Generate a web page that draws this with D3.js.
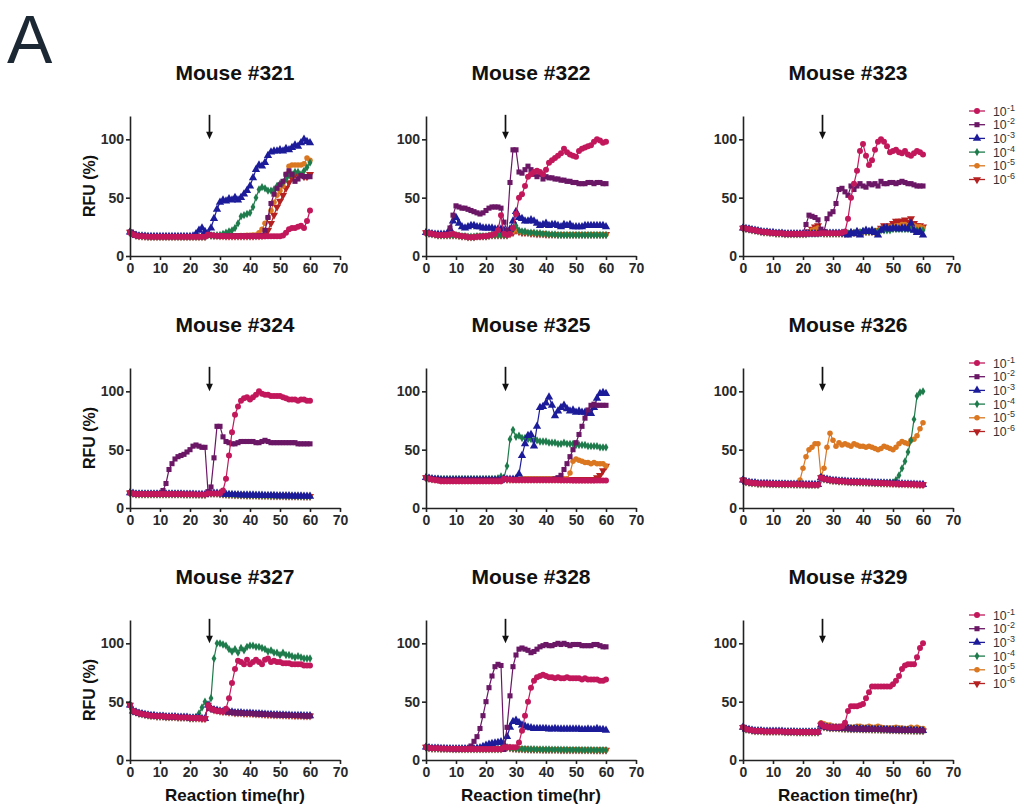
<!DOCTYPE html>
<html><head><meta charset="utf-8">
<script src="https://cdn.jsdelivr.net/npm/d3@7"></script>
<style>body{margin:0;background:#fff} svg{display:block}</style>
</head><body><svg id="chart" width="1020" height="807"></svg>
<script>
// ---------- DATA (RFU %, one value per hour, 0..60 h) ----------
const hours = d3.range(0, 61);
const xTicks = [0,10,20,30,40,50,60,70];
const yTicks = [0,50,100];
const dilutionExps = ["-1","-2","-3","-4","-5","-6"];
const titles = ["Mouse #321","Mouse #322","Mouse #323","Mouse #324","Mouse #325","Mouse #326","Mouse #327","Mouse #328","Mouse #329"];
const arrowTime = 26.5;

const m321_1 = [20,18.5,17.5,17,17,16.8,16.6,16.5,16.5,16.5, 16.5,16.5,16.5,16.5,16.5,16.5,16.5,16.5,16.5,16.5, 16.5,16.5,16.5,16.5,16.5,16.6,18.5,17.8,17.5,17.3, 17.2,17.1,17,17,17,17,17,17,17,17, 17,17,17,17,17,17,17,17,17,17, 17,17.5,20,23,24,24,25,26,24,30, 39];
const m321_2 = [20.5,19,17.8,17.2,17,16.9,16.7,16.6,16.6,16.6, 16.6,16.6,16.6,16.6,16.6,16.6,16.6,16.6,16.6,16.6, 16.6,16.6,16.6,16.6,16.6,16.7,18.3,17.8,17.5,17.4, 17.3,17.2,17.1,17.1,17.1,17.1,17.1,17.1,17.1,17.1, 17.1,17.1,17.1,17.2,17.5,22,33,45,53,58, 61,64,70,73,70,64,66,69,68,68, 68];
const m321_3 = [20.5,19,17.8,17.2,17,16.9,16.7,16.6,16.6,16.6, 16.6,16.6,16.6,16.6,16.6,16.6,16.6,16.6,16.6,16.6, 16.7,17,19,22,24,21,19,24,32,40, 46,48,47,49,48,50,48,50,53,56, 60,67,74,78,77,80,86,89,90,90, 91,90,92,91,93,95,94,97,100,98, 97];
const m321_4 = [20.5,19,17.8,17.2,17,16.9,16.7,16.6,16.6,16.6, 16.6,16.6,16.6,16.6,16.6,16.6,16.6,16.6,16.6,16.6, 16.6,16.6,16.6,16.6,16.6,16.7,18.3,17.8,17.6,17.8, 18,19,20,21,22,24,28,34,35,36, 37,42,50,57,59,58,56,56,57,60, 62,63,66,69,70,72,72,70,73,76, 80];
const m321_5 = [20.5,19,17.8,17.2,17,16.9,16.7,16.6,16.6,16.6, 16.6,16.6,16.6,16.6,16.6,16.6,16.6,16.6,16.6,16.6, 16.6,16.6,16.6,16.6,16.6,16.7,18.3,17.8,17.5,17.4, 17.3,17.2,17.2,17.2,17.2,17.3,17.4,17.5,17.6,17.7, 17.8,18,18,20,23,28,33,39,46,52, 56,60,70,77,78,78,78,78,79,84, 82];
const m321_6 = [20.5,19,17.8,17.2,17,16.9,16.7,16.6,16.6,16.6, 16.6,16.6,16.6,16.6,16.6,16.6,16.6,16.6,16.6,16.6, 16.6,16.6,16.6,16.6,16.6,16.7,18.3,17.8,17.5,17.4, 17.3,17.2,17.1,17.1,17.1,17.1,17.1,17.1,17.1,17.1, 17.1,17.1,17.2,17.3,17.5,18,22,28,35,42, 47,52,58,63,67,70,70,70,68,68, 70];

const m322_1 = [20,19.5,19,18.5,18,18,18,18,18.5,19, 18,17.5,17,17,16,16,16,16.5,16.5,17, 17,17.5,18,19,22,35,19,18,19,24, 36,50,53,60,68,70,72,73,72,70, 74,80,82,84,86,88,92,89,87,86, 85,90,92,93,94,95,98,100,99,97, 98];
const m322_2 = [20,19.5,19,18.5,18,18,18,19,24,35, 43,42,41,41,40,39,38,37,36,37, 39,41,42,42,42,41,29,22,63,91, 91,72,71,74,77,74,70,68,70,66, 68,67,67,66,66,65,65,64,64,63, 63,62,62,62,63,63,62,63,63,62, 62];
const m322_3 = [20,19.5,19,18.5,18.5,18.5,18.5,19,23,30, 33,28,25,24,25,26,26,25,25,24, 24,24,24,23,23,23,22,20,23,30, 38,33,32,30,30,31,30,28,26,27, 28,26,27,27,26,25,27,26,27,25, 25,25,25,26,26,26,26,26,26,26, 25];
const m322_4 = [20,19.5,19,18.5,18,18,18,18,18,18, 18,17.5,17,17,16.5,16.5,16.5,17,17,17, 17,17.5,18,18,18,18,18,18,20,23, 26,22,21,21,20,20,20,19.5,19.5,19, 19,18.5,18.5,18.5,18,18,18,18,18,18, 18,18,18,18,18,18,18,18,18,18, 18];
const m322_5 = [20,19.5,19,18.5,18,18,18,18,18,18, 18,17.5,17,17,16.5,16.5,16.5,17,17,17, 17,17.5,18,18,18,18,18,18,19,21, 23,21,20.5,20.5,20,20,19.5,19.5,19,19, 19,18.5,18.5,18.5,18.5,18.5,18.5,18.5,18.5,18.5, 18.5,18.5,18.5,18.5,18.5,18.5,18.5,18.5,18.5,18.5, 18.5];
const m322_6 = [20,19.5,19,18.5,18,18,18,18,18,18, 18,17.5,17,17,16.5,16.5,16.5,17,17,17, 17,17.5,18,18,18,18,18,18,19,20, 22,21,20,20,20,19.5,19.5,19,19,19, 18.5,18.5,18.5,18.5,18.5,18.5,18.5,18.5,18.5,18.5, 18.5,18.5,18.5,18.5,18.5,18.5,18.5,18.5,18.5,18.5, 18.5];

const m323_1 = [24,23.5,23,22.5,22,21.5,21,20.5,20.5,20, 20,19.5,19.5,19.5,19,19,19,19,19,19, 19,19,19,19,19,19,19.5,19.5,19.5,19.5, 19.5,19.5,19.5,20,21,32,50,62,73,90, 96,86,78,82,91,98,100,98,94,89, 90,91,89,88,90,87,86,88,90,89, 87];
const m323_2 = [24,23.5,23,22.5,22,21.5,21,20.5,20.5,20, 20,19.5,19.5,19.5,19,19,19,19,19,19, 19.5,27,35,34,33,31,23,21,32,36, 38,45,57,58,55,52,60,57,60,62, 60,59,62,61,62,60,64,62,62,63, 63,62,63,64,63,62,62,61,60,60, 60];
const m323_3 = [24,23.5,23,22.5,22,21.5,21,20.5,20.5,20, 20,19.5,19.5,19.5,19,19,19,19,19,19, 19,19,19,19,19,19,19.5,19.5,19.5,19.5, 19.5,19.5,19.5,19.5,19,18,20,19,21,18, 21,22,21,22,20,18,22,24,24,23, 24,24,23,24,24,23,28,22,20,21, 18];
const m323_4 = [24,23.5,23,22.5,22,21.5,21,20.5,20.5,20, 20,19.5,19.5,19.5,19,19,19,19,19,19, 19,19,19,19,19,19,19.5,19.5,19.5,19.5, 19.5,19.5,19.5,19.5,19.5,19.5,20,20,20.5,20.5, 21,21,21,21,21,21,22,22,22,22, 23,23,23,23,23,23,23,22,22,22, 22];
const m323_5 = [24,23.5,23,22.5,22,21.5,21,20.5,20.5,20, 20,19.5,19.5,19.5,19,19,19,19,19,19, 19,19,20,22,23,24,19.5,19.5,19.5,19.5, 19.5,19.5,19.5,19.5,19.5,19.5,20,20,20.5,20.5, 21,21,21,21,21,22,23,24,24,25, 25,26,26,27,27,26,27,26,25,25, 24];
const m323_6 = [24,23.5,23,22.5,22,21.5,21,20.5,20.5,20, 20,19.5,19.5,19.5,19,19,19,19,19,19, 19,19,21,23,25,26,20,19.5,19.5,19.5, 19.5,19.5,19.5,19.5,19.5,19.5,20,20,20,20.5, 20.5,21,21,21,21,22,24,26,25,26, 28,30,30,30,31,29,32,28,26,26, 25];

const m324_1 = [13,12.5,12,12,12,12,12,12,12,12, 12,12,12,12,12,12,12,12,11.8,11.8, 11.8,11.8,11.6,11.6,11.5,11.5,12.5,12.5,12.5,12.5, 12.5,15,25,45,65,80,87,92,94,95, 93,95,97,100,98,97,97,96,96,96, 96,95,94,93,93,93,92,93,93,92, 92];
const m324_2 = [13,12.5,12,12,12,12,12,12,12,12, 12.5,15,21,33,38,42,44,45,46,48, 50,53,54,53,52,52,14,18,43,70, 70,61,57,56,55,55,56,57,57,57, 57,57,56,56,57,58,57,56,56,56, 56,56,56,56,56,56,55,55,55,55, 55];
const m324_3 = [13,12.5,12,12,12,12,12,12,12,12, 12,12,12,12,12,12,12,12,11.8,11.8, 11.8,11.8,11.6,11.6,11.5,11.5,12.5,12.5,12.5,12.5, 12.3,12,11.8,11.6,11.5,11.4,11.3,11.2,11.1,11, 11,11,10.9,10.8,10.8,10.7,10.7,10.6,10.6,10.5, 10.5,10.5,10.4,10.4,10.3,10.3,10.2,10.2,10.1,10.1, 10];
const m324_low = [13,12.5,12,12,12,12,12,12,12,12, 12,12,12,12,12,12,12,12,11.8,11.8, 11.8,11.8,11.6,11.6,11.5,11.5,12.5,12.5,12.5,12.5, 12.2,11.9,11.7,11.5,11.4,11.3,11.2,11.1,11,10.9, 10.9,10.9,10.8,10.7,10.7,10.6,10.6,10.5,10.5,10.4, 10.4,10.4,10.3,10.3,10.2,10.2,10.1,10.1,10,10, 10];

const m325_1 = [26,25,24.5,24,23.5,23,23,23,23,23, 23,23,23,23,23,23,23,23,23,23, 23,23,23,23,23,23,25,24.5,24.5,24, 24,24,24,24,24,24,24,24,24,24, 24,24,24,24,24,23.8,23.8,23.8,23.8,23.6, 23.6,23.6,23.6,23.6,23.6,23.6,23.6,23.6,23.6,23.6, 23.5];
const m325_2 = [26,25.5,25,24.5,24.5,24,24,24,24,24, 24,24,24,24,24,24,24,24,24,24, 24,24,24,24,24,24,25,24.5,24.5,24.5, 24.5,24.5,24.5,24.5,24.5,24.5,24.5,24.5,24.5,24.5, 24.5,24.5,24.5,25,26,28,33,38,44,50, 56,63,70,77,84,88,89,88,88,88, 88];
const m325_3 = [26,25.5,25,24.5,24.5,24,24,24,24,24, 24,24,24,24,24,24,24,24,24,24, 24,24,24,24,24,24,25,24.5,24.5,24.5, 25,29,45,55,62,63,53,70,86,87, 90,95,88,79,83,86,88,85,83,84, 82,83,82,82,81,81,86,94,98,99, 98];
const m325_4 = [26,25.5,25,25,25,25,25,25,25,25, 25,25,25,25,25,25,25,25,25,25, 25,25,25,25,25.5,27,26,36,59,67, 61,62,60,60,59,59,58,58,57,57, 57,56,56,56,55,55,56,55,55,55, 54,54,54,54,53,53,53,53,52,52, 52];
const m325_5 = [26,25.5,25,24.5,24.5,24,24,24,24,24, 24,24,24,24,24,24,24,24,24,24, 24,24,24,24,24,24,25,24.5,24.5,24.5, 24.5,24.5,25,25,25,25,25,25,25,25, 25,25,25,25,25,25,25,25,30,40, 42,41,40,39,39,38,39,38,38,38, 36];
const m325_6 = [26,25.5,25,24.5,24.5,24,24,24,24,24, 24,24,24,24,24,24,24,24,24,24, 24,24,24,24,24,24,25,24.5,24.5,24.5, 24.5,24.5,24.5,24.5,24.5,24.5,24.5,24.5,24.5,24.5, 24.5,24.5,24.5,24.5,24.5,24.5,24.5,24.5,24.5,24.5, 24.5,24.5,24.5,24.5,24.5,24.5,24.5,26,28,32, 36];

const m326_low = [24,22.5,22,21.5,21.5,21,21,21,21,20.8, 20.8,20.6,20.6,20.5,20.5,20.4,20.4,20.3,20.3,20.2, 20.2,20.1,20,20,20,20,26,25,24.5,24, 23.5,23.5,23,23,22.8,22.6,22.5,22.4,22.3,22.2, 22,22,21.8,21.8,21.6,21.5,21.4,21.3,21.2,21.1, 21,21,20.8,20.7,20.6,20.5,20.4,20.3,20.2,20.1, 20];
const m326_4 = [24,22.5,22,21.5,21.5,21,21,21,21,20.8, 20.8,20.6,20.6,20.5,20.5,20.4,20.4,20.3,20.3,20.2, 20.2,20.1,20,20,20,20,26,25,24.5,24, 23.5,23.5,23,23,22.8,22.6,22.5,22.4,22.3,22.2, 22,22,21.8,21.8,21.6,21.5,21.4,21.3,21.5,21.8, 22,24,28,34,40,48,58,76,96,99, 100];
const m326_5 = [24,22.5,22,21.5,21.5,21,21,21,21,20.8, 20.8,20.6,20.6,20.5,20.5,20.4,20.4,20.3,20.3,24, 34,44,50,52,55,55,27,34,52,64, 58,53,56,54,55,54,53,55,54,53, 53,52,53,52,51,50,51,53,52,51, 50,52,55,57,56,55,58,59,62,68, 73];

const m327_1 = [47,42,41,40,39.5,39,38.5,38,38,37.5, 37.5,37.5,37,37,37,37,36.5,36.5,36.5,36.5, 36,36,36,36,35.5,35.5,47,44,43,42, 42,41.5,44,53,66,78,85,84,82,86, 82,84,86,84,82,86,87,84,85,84, 84,83,83,83,82,82,82,82,81,81, 81];
const m327_4 = [47,42,41,40,39.5,39,38.5,38,38,37.5, 37.5,37.5,37,37,37,37,36.5,36.5,36.5,36.5, 36,36,37,40,45,50,46,53,87,100, 100,99,98,95,93,95,92,96,94,97, 98,98,97,97,96,95,93,94,92,92, 90,92,90,90,89,88,89,88,87,87, 87];
const m327_low = [47,42,41,40,39.5,39,38.5,38,38,37.5, 37.5,37.5,37,37,37,37,36.5,36.5,36.5,36.5, 36,36,36,36,35.5,35.5,47,44,43,42.5, 42,41.5,41.5,41,41,40.5,40.5,40.5,40,40, 40,39.8,39.6,39.5,39.4,39.2,39,39,38.8,38.7, 38.6,38.5,38.4,38.3,38.2,38.1,38,38,37.9,37.8, 37.8];

const m328_1 = [11,10.5,10,10,10,9.8,9.8,9.7,9.7,9.6, 9.6,9.6,9.5,9.5,9.5,9.5,9.5,9.5,9.5,9.5, 9.5,9.5,9.5,9.5,9.5,9.5,11,11,11,11, 11,15,25,38,50,62,68,71,72,73, 72,71,71,70,71,70,70,71,70,70, 70,70,69,70,69,69,69,69,68,68, 69];
const m328_2 = [11,10.5,10,10,10,9.8,9.8,9.7,9.7,9.6, 9.6,9.6,9.5,9.5,10,12,16,20,27,38, 50,62,72,80,82,81,9,28,55,80, 90,95,96,95,94,92,93,95,97,98, 99,98,98,99,100,99,100,99,98,99, 99,99,98,98,98,98,99,99,98,97, 97];
const m328_3 = [11,10.5,10,10,10,9.8,9.8,9.7,9.7,9.6, 9.6,9.6,9.5,9.5,9.5,9.5,9.5,10,10.5,11.5, 12.5,13.5,14,14.5,15,15.5,13,20,28,33, 34,32,30,29,28,27.5,27,27,27,27, 27,26.5,26.5,27,26.5,26.5,26.5,26.5,26.5,26.5, 26.5,26.5,26,26,26.5,26,26,27,26,26, 25.5];
const m328_low = [11,10.5,10,10,10,9.8,9.8,9.7,9.7,9.6, 9.6,9.6,9.5,9.5,9.5,9.5,9.5,9.5,9.5,9.5, 9.5,9.5,9.5,9.5,9.5,9.5,11,11,10.5,10, 9.8,9.6,9.5,9.4,9.3,9.2,9.2,9.1,9.1,9, 9,9,8.9,8.9,8.9,8.8,8.8,8.8,8.7,8.7, 8.7,8.7,8.6,8.6,8.6,8.6,8.5,8.5,8.5,8.5, 8.5];

const m329_1 = [28,26.5,26,25.5,25,25,25,24.5,24.5,24.5, 24.5,24.5,24.5,24.5,24.2,24.2,24.2,24.2,24,24, 24,24,24,24,24,24,31,29,28.5,28, 28,28,28,29,32,42,46,46,46,47, 48,53,58,63,63,63,63,63,63,63, 65,68,72,78,81,82,82,82,88,96, 100];
const m329_5 = [28,26.5,26,25.5,25,25,25,24.5,24.5,24.5, 24.5,24.5,24.5,24.5,24.2,24.2,24.2,24.2,24,24, 24,24,24,24,24,24,32,31,30,30, 29,29,29,28.5,28.5,28.5,28,28,29,29, 28,28,29,28,28,29,28,27.5,27.5,27.5, 27.5,28,27.5,27.5,27,27,28,27,28,27, 27];
const m329_low = [28,26.5,26,25.5,25,25,25,24.5,24.5,24.5, 24.5,24.5,24.5,24.5,24.2,24.2,24.2,24.2,24,24, 24,24,24,24,24,24,30,28.5,28,27.5, 27.5,27.5,27.3,27.2,27,27,26.8,26.8,26.7,26.6, 26.5,26.5,26.4,26.3,26.2,26.2,26.1,26,26,25.9, 25.8,25.8,25.7,25.6,25.5,25.5,25.4,25.3,25.3,25.2, 25.1];

// series per panel, order: 10^-1 .. 10^-6
const panelSeries = [
  [m321_1, m321_2, m321_3, m321_4, m321_5, m321_6],
  [m322_1, m322_2, m322_3, m322_4, m322_5, m322_6],
  [m323_1, m323_2, m323_3, m323_4, m323_5, m323_6],
  [m324_1, m324_2, m324_3, m324_low, m324_low, m324_low],
  [m325_1, m325_2, m325_3, m325_4, m325_5, m325_6],
  [m326_low, m326_low, m326_low, m326_4, m326_5, m326_low],
  [m327_1, m327_low, m327_low, m327_4, m327_low, m327_low],
  [m328_1, m328_2, m328_3, m328_low, m328_low, m328_low],
  [m329_1, m329_low, m329_low, m329_low, m329_5, m329_low]
];

// ---------- STYLE ----------
const colors = ["#C2185B","#6B1766","#1C1C9A","#1E7B4B","#DA7720","#B52020"];
const symbolTypes = [d3.symbolCircle, d3.symbolSquare, d3.symbolTriangle, d3.symbolDiamond, d3.symbolCircle, d3.symbolTriangle];
const symbolSizes = [28, 26, 30, 20, 24, 28];
const symbolRot = [0,0,0,0,0,180];
const FONT = "'Liberation Sans', Arial, Helvetica, sans-serif";

const svg = d3.select("#chart");
const W = 210, H = 140;
const colX = [130, 426, 743];
const rowY = [116, 368, 620];
const x = d3.scaleLinear().domain([0,70]).range([0,W]);
const y = d3.scaleLinear().domain([0,120]).range([H,0]);

svg.append("text").attr("x", 7).attr("y", 63)
  .attr("font-family", FONT)
  .attr("font-size", 68).attr("fill", "#1c2833").text("A");

panelSeries.forEach((series, i) => {
  const c = i % 3, r = Math.floor(i / 3);
  const g = svg.append("g").attr("transform", `translate(${colX[c]},${rowY[r]})`);

  // title
  g.append("text").attr("x", W/2).attr("y", -36).attr("text-anchor","middle")
    .attr("font-family", FONT).attr("font-weight","bold").attr("font-size", 21)
    .attr("fill","#111").text(titles[i]);

  // data (draw 10^-6 first so 10^-1 is on top)
  for (let s = series.length - 1; s >= 0; s--) {
    const vals = series[s];
    const pts = hours.map((h, k) => [h, vals[k]]).filter(d => d[1] != null);
    g.append("path").datum(pts)
      .attr("fill","none").attr("stroke", colors[s]).attr("stroke-width", 1.2)
      .attr("d", d3.line().x(d => x(d[0])).y(d => y(d[1])));
    const sym = d3.symbol().type(symbolTypes[s]).size(symbolSizes[s]);
    g.append("g").selectAll("path").data(pts).join("path")
      .attr("transform", d => `translate(${x(d[0])},${y(d[1])}) rotate(${symbolRot[s]})`)
      .attr("d", sym).attr("fill", colors[s]);
  }

  // axes
  const xa = g.append("g").attr("transform", `translate(0,${H})`)
    .call(d3.axisBottom(x).tickValues(xTicks).tickSize(4).tickSizeOuter(0).tickPadding(3));
  const ya = g.append("g")
    .call(d3.axisLeft(y).tickValues(yTicks).tickSize(4).tickSizeOuter(0).tickPadding(2));
  [xa, ya].forEach(a => {
    a.select(".domain").attr("stroke","#222").attr("stroke-width",1.6);
    a.selectAll(".tick line").attr("stroke","#222").attr("stroke-width",1.6);
    a.selectAll(".tick text").attr("font-family", FONT).attr("font-weight","bold")
      .attr("font-size", 14).attr("fill","#2a2a2a");
  });

  // arrow annotation
  const ax = x(arrowTime);
  g.append("line").attr("x1", ax).attr("x2", ax).attr("y1", y(121)).attr("y2", y(104))
    .attr("stroke","#111").attr("stroke-width",1.7);
  g.append("path").attr("fill","#111")
    .attr("d", `M${ax-3.4},${y(106.5)}L${ax+3.4},${y(106.5)}L${ax},${y(100)}Z`);

  // axis labels
  if (c === 0) {
    g.append("text").attr("transform", `translate(-35,${H/2}) rotate(-90)`)
      .attr("text-anchor","middle").attr("font-family", FONT).attr("font-weight","bold")
      .attr("font-size", 16).attr("fill","#111").text("RFU (%)");
  }
  if (r === 2) {
    g.append("text").attr("x", W/2).attr("y", H + 41).attr("text-anchor","middle")
      .attr("font-family", FONT).attr("font-weight","bold").attr("font-size", 17)
      .attr("fill","#111").text("Reaction time(hr)");
  }

  // legend
  if (c === 2) {
    const lg = svg.append("g").attr("transform", `translate(969,${rowY[r] - 5})`);
    dilutionExps.forEach((e, k) => {
      const it = lg.append("g").attr("transform", `translate(0,${k * 13.7})`);
      it.append("line").attr("x1",0).attr("x2",16).attr("y1",0).attr("y2",0)
        .attr("stroke", colors[k]).attr("stroke-width",1.3);
      it.append("path").attr("transform", `translate(8,0) rotate(${symbolRot[k]})`)
        .attr("d", d3.symbol().type(symbolTypes[k]).size(symbolSizes[k])).attr("fill", colors[k]);
      it.append("text").attr("x", 24).attr("y", 4.5)
        .attr("font-family", FONT).attr("font-size", 12.3).attr("fill","#333").text("10");
      it.append("text").attr("x", 38).attr("y", -0.5)
        .attr("font-family", FONT).attr("font-size", 9).attr("fill","#333").text(e);
    });
  }
});
</script></body></html>
